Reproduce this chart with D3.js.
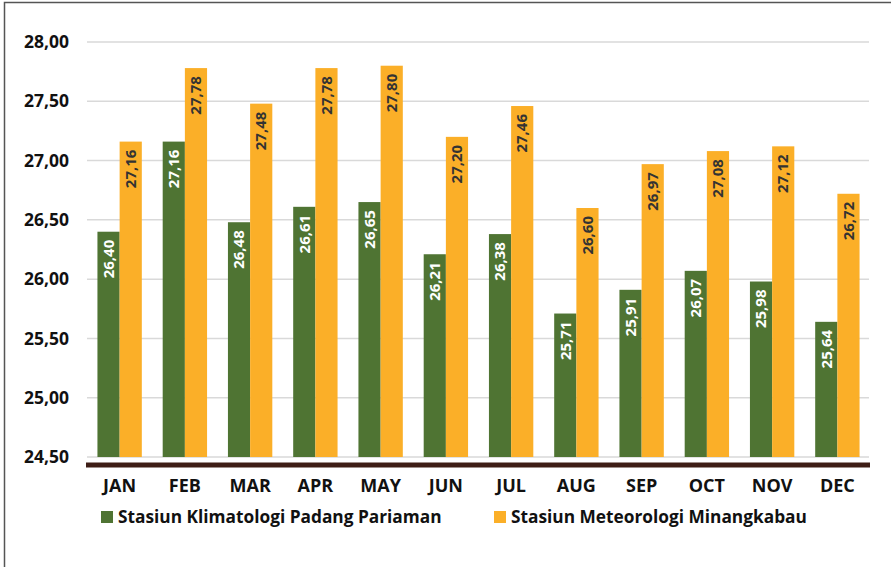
<!DOCTYPE html>
<html>
<head>
<meta charset="utf-8">
<script src="https://cdn.jsdelivr.net/npm/d3@7"></script>
<style>
  body { margin: 0; background: #fff; }
  svg { display: block; font-family: 'Open Sans', 'DejaVu Sans', sans-serif; }
</style>
</head>
<body>
<svg class="chart" width="891" height="567"></svg>
<script>
const months = ['JAN', 'FEB', 'MAR', 'APR', 'MAY', 'JUN', 'JUL', 'AUG', 'SEP', 'OCT', 'NOV', 'DEC']
const padangPariaman = [26.40, 27.16, 26.48, 26.61, 26.65, 26.21, 26.38, 25.71, 25.91, 26.07, 25.98, 25.64]
const minangkabau = [27.16, 27.78, 27.48, 27.78, 27.80, 27.20, 27.46, 26.60, 26.97, 27.08, 27.12, 26.72]
const seriesNames = ['Stasiun Klimatologi Padang Pariaman', 'Stasiun Meteorologi Minangkabau']
const yTicks = [24.5, 25, 25.5, 26, 26.5, 27, 27.5, 28]

let svg = d3.select('.chart')
let colors = ['#4f7433', '#fbaf28']
let textColors = ['#ffffff', '#333333']

let fmt = v => v.toFixed(2).replace('.', ',')

// frame
svg.append('path')
  .attr('d', 'M4.5,567 V2.5 H891')
  .attr('fill', 'none')
  .attr('stroke', '#555')
  .attr('stroke-width', 1.5)

let x = d3.scaleBand()
  .domain(months)
  .range([87, 870])
  .paddingInner(0.32)
  .paddingOuter(0.16)

let xs = d3.scaleBand()
  .domain([0, 1])
  .range([0, x.bandwidth()])

let y = d3.scaleLinear()
  .domain([24.5, 28])
  .range([457, 42])

// gridlines
svg.selectAll('.grid')
  .data(yTicks)
  .enter()
  .append('line')
  .attr('x1', 87)
  .attr('x2', 869)
  .attr('y1', d => y(d))
  .attr('y2', d => y(d))
  .attr('stroke', '#d9d9d9')
  .attr('stroke-width', 1.5)

// y labels
svg.selectAll('.ylab')
  .data(yTicks)
  .enter()
  .append('text')
  .attr('x', 69)
  .attr('y', d => y(d))
  .attr('dy', '0.35em')
  .attr('text-anchor', 'end')
  .attr('font-size', 17.5)
  .attr('font-weight', 'bold')
  .attr('fill', '#111')
  .text(d => fmt(d))

let series = [padangPariaman, minangkabau]

series.forEach((vals, s) => {
  let g = svg.append('g')
  g.selectAll('rect')
    .data(vals)
    .enter()
    .append('rect')
    .attr('x', (d, i) => x(months[i]) + xs(s))
    .attr('width', xs.bandwidth())
    .attr('y', d => y(d))
    .attr('height', d => y(24.5) - y(d))
    .attr('fill', colors[s])

  g.selectAll('text')
    .data(vals)
    .enter()
    .append('text')
    .attr('transform', (d, i) => `translate(${x(months[i]) + xs(s) + xs.bandwidth() / 2},${y(d) + 8}) rotate(-90)`)
    .attr('dy', '0.35em')
    .attr('text-anchor', 'end')
    .attr('font-size', 15)
    .attr('font-weight', 'bold')
    .attr('fill', textColors[s])
    .text(d => fmt(d))
})

// baseline
svg.append('line')
  .attr('x1', 86)
  .attr('x2', 870)
  .attr('y1', 465)
  .attr('y2', 465)
  .attr('stroke', '#3e1e16')
  .attr('stroke-width', 5)

// month labels
svg.selectAll('.mlab')
  .data(months)
  .enter()
  .append('text')
  .attr('x', d => x(d) + x.bandwidth() / 2)
  .attr('y', 492)
  .attr('text-anchor', 'middle')
  .attr('font-size', 18)
  .attr('font-weight', 'bold')
  .attr('fill', '#111')
  .text(d => d)

// legend
let legendX = [101, 494]
let legend = svg.selectAll('.legend')
  .data(seriesNames)
  .enter()
  .append('g')
  .attr('transform', (d, i) => `translate(${legendX[i]},517)`)

legend.append('rect')
  .attr('x', 0)
  .attr('y', -6)
  .attr('width', 12)
  .attr('height', 12)
  .attr('fill', (d, i) => colors[i])

legend.append('text')
  .attr('x', 17)
  .attr('dy', '0.35em')
  .attr('font-size', 17.3)
  .attr('font-weight', 'bold')
  .attr('fill', '#111')
  .text(d => d)
</script>
</body>
</html>
